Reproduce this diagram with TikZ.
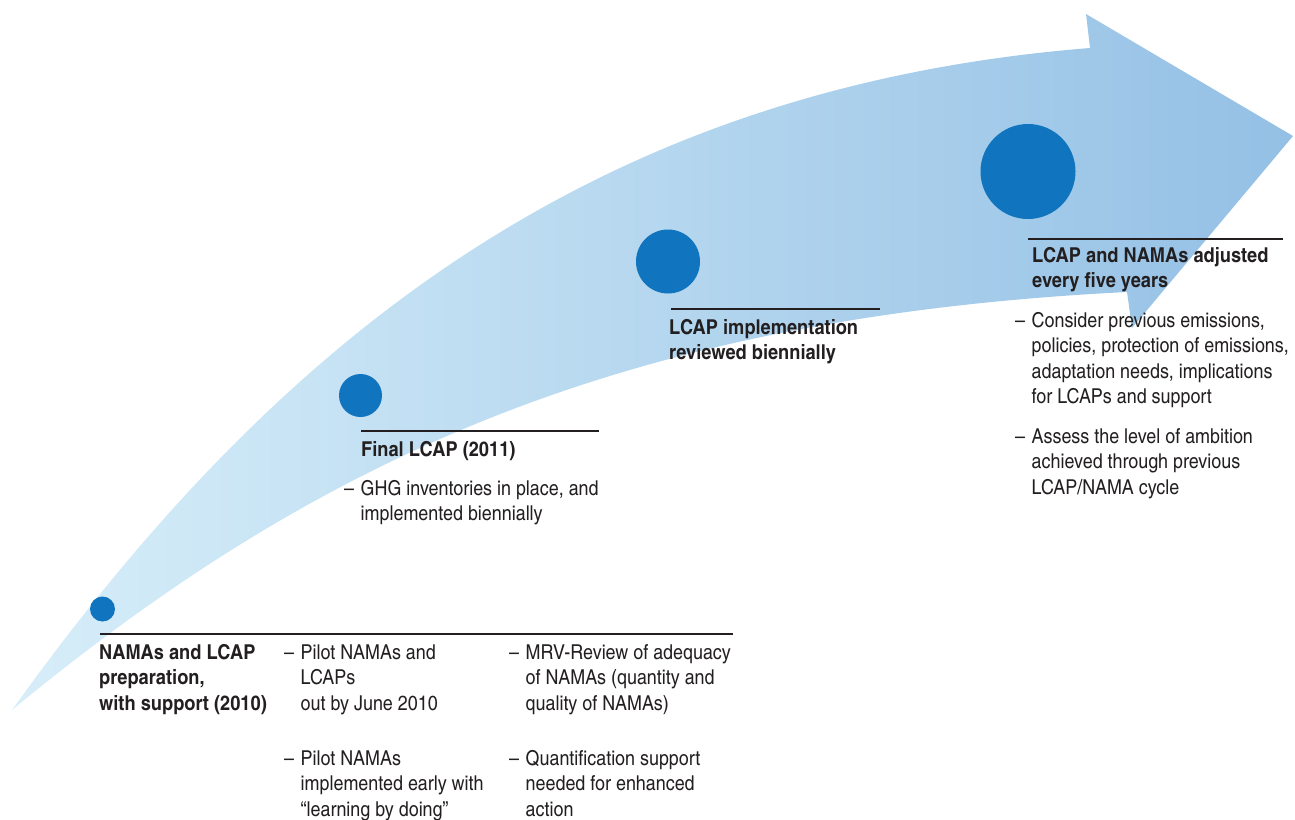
\documentclass[tikz,border=0pt]{standalone}
\usepackage{fontspec}
\setmainfont{TeX Gyre Heros Cn}[FakeStretch=1.065, BoldFeatures={FakeStretch=1.085}]
\definecolor{arrowL}{RGB}{215,238,249}
\definecolor{arrowM}{RGB}{196,226,244}
\definecolor{arrowR}{RGB}{148,192,229}
\definecolor{dotblue}{RGB}{17,116,190}
\definecolor{ink}{RGB}{35,31,32}
\newcommand\mlines[1]{\begin{tabular}[t]{@{}l@{}}#1\end{tabular}}
\newcommand\dashitem[1]{\makebox[16.5pt][l]{–}\mlines{#1}}
\tikzset{
  txt/.style={anchor=base west, inner sep=0pt, text=ink, font=\fontsize{20.5}{25.6}\selectfont},
  head/.style={txt, font=\fontsize{20.5}{25.8}\selectfont\bfseries},
  dot/.style={circle, fill=dotblue, inner sep=0pt, draw=none},
  rule/.style={draw=ink, line width=1.3pt}
}
\begin{document}
\begin{tikzpicture}[x=1pt,y=-1pt]
\useasboundingbox (0,0) rectangle (1295,819);
% arrow
\shade[left color=arrowL, middle color=arrowM, right color=arrowR]
  (12,710) .. controls (275,343) and (590,88) .. (1090,48)
  -- (1086,14) -- (1293,136) -- (1132,328) -- (1127,292)
  .. controls (627,317) and (320,456) .. (12,710) -- cycle;
% dots
\node[dot, minimum size=25pt] (d1) at (102.5,609) {};
\node[dot, minimum size=43pt] (d2) at (360.5,395.5) {};
\node[dot, minimum size=64pt] (d3) at (668,261.5) {};
\node[dot, minimum size=95pt] (d4) at (1028,171.5) {};
% rules
\coordinate (r1a) at (100,634); \coordinate (r1b) at (733,634);
\coordinate (r2a) at (361,431); \coordinate (r2b) at (599,431);
\coordinate (r3a) at (671,309); \coordinate (r3b) at (880,309);
\coordinate (r4a) at (1028,239); \coordinate (r4b) at (1283,239);
\draw[rule] (r1a) -- (r1b);
\draw[rule] (r2a) -- (r2b);
\draw[rule] (r3a) -- (r3b);
\draw[rule] (r4a) -- (r4b);
% stage 1
\node[head] (h1) at (99,659) {\mlines{NAMAs and LCAP\\preparation,\\with support (2010)}};
\node[txt] (b1a) at (284,659) {\dashitem{Pilot NAMAs and\\LCAPs\\out by June 2010}};
\node[txt] (b1b) at (284,765) {\dashitem{Pilot NAMAs\\implemented early with\\“learning by doing”}};
\node[txt] (b1c) at (509,659) {\dashitem{MRV-Review of adequacy\\of NAMAs (quantity and\\quality of NAMAs)}};
\node[txt] (b1d) at (509,765) {\dashitem{Quantification support\\needed for enhanced\\action}};
% stage 2
\node[head] (h2) at (361,456) {Final LCAP (2011)};
\node[txt] (b2a) at (344,495) {\dashitem{GHG inventories in place, and\\implemented biennially}};
% stage 3
\node[head] (h3) at (669,334) {\mlines{LCAP implementation\\reviewed biennially}};
% stage 4
\node[head] (h4) at (1032,262) {\mlines{LCAP and NAMAs adjusted\\every five years}};
\node[txt] (b4a) at (1015,327) {\dashitem{Consider previous emissions,\\policies, protection of emissions,\\adaptation needs, implications\\for LCAPs and support}};
\node[txt] (b4b) at (1015,443) {\dashitem{Assess the level of ambition\\achieved through previous\\LCAP/NAMA cycle}};
\end{tikzpicture}
\end{document}
